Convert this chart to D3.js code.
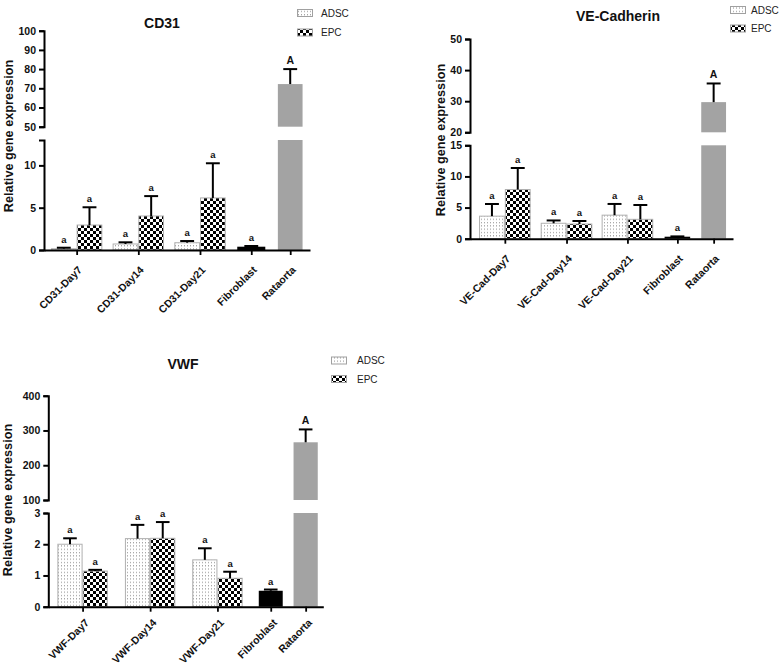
<!DOCTYPE html>
<html><head><meta charset="utf-8">
<script src="https://cdn.jsdelivr.net/npm/d3@7"></script>
<style>body{margin:0;background:#fff}svg{display:block}</style>
</head><body><svg id="c" width="784" height="667"></svg>
<script>
// ---------------- DATA ----------------
const seriesNames = ["ADSC", "EPC"];

const cd31Categories = ["CD31-Day7", "CD31-Day14", "CD31-Day21", "Fibroblast", "Rataorta"];
const cd31ADSC = [0.15, 0.71, 0.86];
const cd31ADSCsd = [0.12, 0.2, 0.2];
const cd31EPC = [2.95, 4.02, 6.15];
const cd31EPCsd = [2.1, 2.35, 4.1];
const cd31Controls = [0.39, 72.2];
const cd31ControlsSd = [0.08, 7.8];
const cd31Letters = ["a", "a", "a", "a", "a", "a", "a", "A"];
const cd31TicksLow = [0, 5, 10];
const cd31TicksHigh = [50, 60, 70, 80, 90, 100];
const cd31DomainLow = [0, 13];
const cd31DomainHigh = [50, 100];

const veCategories = ["VE-Cad-Day7", "VE-Cad-Day14", "VE-Cad-Day21", "Fibroblast", "Rataorta"];
const veADSC = [3.62, 2.48, 3.78];
const veADSCsd = [1.95, 0.45, 1.8];
const veEPC = [7.9, 2.36, 3.11];
const veEPCsd = [3.45, 0.48, 2.3];
const veControls = [0.32, 29.7];
const veControlsSd = [0.05, 6.0];
const veLetters = ["a", "a", "a", "a", "a", "a", "a", "A"];
const veTicksLow = [0, 5, 10, 15];
const veTicksHigh = [20, 30, 40, 50];
const veDomainLow = [0, 15];
const veDomainHigh = [20, 50];

const vwfCategories = ["VWF-Day7", "VWF-Day14", "VWF-Day21", "Fibroblast", "Rataorta"];
const vwfADSC = [2.0, 2.18, 1.5];
const vwfADSCsd = [0.19, 0.44, 0.37];
const vwfEPC = [1.14, 2.19, 0.91];
const vwfEPCsd = [0.04, 0.52, 0.21];
const vwfControls = [0.51, 266];
const vwfControlsSd = [0.04, 37];
const vwfLetters = ["a", "a", "a", "a", "a", "a", "a", "A"];
const vwfTicksLow = [0, 1, 2, 3];
const vwfTicksHigh = [100, 200, 300, 400];
const vwfDomainLow = [0, 3];
const vwfDomainHigh = [100, 400];

const yTitle = "Relative gene expression";

// ---------------- LAYOUT ----------------
const panels = [
  { title: "CD31", cats: cd31Categories, adsc: cd31ADSC, adscSd: cd31ADSCsd, epc: cd31EPC, epcSd: cd31EPCsd,
    ctrl: cd31Controls, ctrlSd: cd31ControlsSd, letters: cd31Letters,
    ticksLow: cd31TicksLow, ticksHigh: cd31TicksHigh, domLow: cd31DomainLow, domHigh: cd31DomainHigh,
    x0: 44, x1: 310, low: [250, 140], high: [126.7, 30.7],
    lead: 0.27, gaps: [0.4, 0.4, 0.43, 0.45], fibW: 1.13, trail: 0.27,
    titleX: 162, titleY: 28.3, yTitleX: 12.5, yTitleY: 136,
    legX: 297, legY: [9, 28.5], legTextX: 321, lblOff: [3, 18] },
  { title: "VE-Cadherin", cats: veCategories, adsc: veADSC, adscSd: veADSCsd, epc: veEPC, epcSd: veEPCsd,
    ctrl: veControls, ctrlSd: veControlsSd, letters: veLetters,
    ticksLow: veTicksLow, ticksHigh: veTicksHigh, domLow: veDomainLow, domHigh: veDomainHigh,
    x0: 470, x1: 733, low: [238.7, 145.3], high: [132.3, 39],
    lead: 0.35, gaps: [0.39, 0.36, 0.42, 0.39], fibW: 1.03, trail: 0.25,
    titleX: 618, titleY: 20.7, yTitleX: 445, yTitleY: 140,
    legX: 730, legY: [6, 24.5], legTextX: 751, lblOff: [3, 18] },
  { title: "VWF", cats: vwfCategories, adsc: vwfADSC, adscSd: vwfADSCsd, epc: vwfEPC, epcSd: vwfEPCsd,
    ctrl: vwfControls, ctrlSd: vwfControlsSd, letters: vwfLetters,
    ticksLow: vwfTicksLow, ticksHigh: vwfTicksHigh, domLow: vwfDomainLow, domHigh: vwfDomainHigh,
    x0: 48.3, x1: 323.3, low: [606.7, 513], high: [500, 395.7],
    lead: 0.36, gaps: [0.68, 0.67, 0.62, 0.39], fibW: 0.99, trail: 0.2,
    titleX: 183, titleY: 369, yTitleX: 12, yTitleY: 500,
    legX: 331, legY: [356.5, 375], legTextX: 357, lblOff: [4, 14] }
];

const FONT = "'Liberation Sans', Arial, Helvetica, sans-serif";
const svg = d3.select("#c").style("font-family", FONT);

// patterns
const defs = svg.append("defs");
const dots = defs.append("pattern").attr("id", "pDots").attr("patternUnits", "userSpaceOnUse")
  .attr("width", 3).attr("height", 3.3);
dots.append("rect").attr("width", 3).attr("height", 3.3).attr("fill", "#fff");
dots.append("rect").attr("x", 1).attr("y", 1).attr("width", 1).attr("height", 1).attr("fill", "#8a8a8a");
const chk = defs.append("pattern").attr("id", "pChk").attr("patternUnits", "userSpaceOnUse")
  .attr("width", 6).attr("height", 6);
chk.append("rect").attr("width", 6).attr("height", 6).attr("fill", "#fff");
chk.append("rect").attr("width", 3).attr("height", 3).attr("fill", "#000");
chk.append("rect").attr("x", 3).attr("y", 3).attr("width", 3).attr("height", 3).attr("fill", "#000");

const styles = {
  ADSC: { fill: "url(#pDots)", stroke: "#b0b0b0" },
  EPC: { fill: "url(#pChk)", stroke: "#b0b0b0" },
  Fibroblast: { fill: "#000", stroke: "none" },
  Rataorta: { fill: "#a3a3a3", stroke: "none" }
};

panels.forEach(p => {
  const g = svg.append("g");
  // compute slots
  const bars = [];
  const centers = [];
  let pos = p.lead;
  for (let i = 0; i < 3; i++) {
    bars.push({ s: pos, w: 1, v: p.adsc[i], sd: p.adscSd[i], kind: "ADSC" });
    bars.push({ s: pos + 1, w: 1, v: p.epc[i], sd: p.epcSd[i], kind: "EPC" });
    centers.push(pos + 1);
    pos += 2 + p.gaps[i];
  }
  bars.push({ s: pos, w: p.fibW, v: p.ctrl[0], sd: p.ctrlSd[0], kind: "Fibroblast" });
  centers.push(pos + p.fibW / 2);
  pos += p.fibW + p.gaps[3];
  bars.push({ s: pos, w: 1, v: p.ctrl[1], sd: p.ctrlSd[1], kind: "Rataorta" });
  centers.push(pos + 0.5);
  const total = pos + 1 + p.trail;
  bars.forEach((b, i) => b.letter = p.letters[i]);

  const x = d3.scaleLinear().domain([0, total]).range([p.x0, p.x1]);
  const yL = d3.scaleLinear().domain(p.domLow).range(p.low);
  const yH = d3.scaleLinear().domain(p.domHigh).range(p.high);
  const yv = v => v <= p.domLow[1] ? yL(v) : yH(v);

  // bars
  bars.forEach(b => {
    const st = styles[b.kind];
    const bx = x(b.s), bw = x(b.s + b.w) - x(b.s);
    const lowTop = Math.min(b.v, p.domLow[1]);
    g.append("rect").attr("x", bx + 0.5).attr("width", bw - 1)
      .attr("y", yL(lowTop)).attr("height", yL(0) - yL(lowTop))
      .attr("fill", st.fill).attr("stroke", st.stroke).attr("stroke-width", 1);
    if (b.v > p.domLow[1]) {
      g.append("rect").attr("x", bx + 0.5).attr("width", bw - 1)
        .attr("y", yH(b.v)).attr("height", yH(p.domHigh[0]) - yH(b.v))
        .attr("fill", st.fill).attr("stroke", st.stroke).attr("stroke-width", 1);
    }
    // error bar (upper only)
    const cx = x(b.s + b.w / 2);
    const top = b.v + b.sd;
    const capHalf = (x(0.27) - x(0));
    g.append("line").attr("x1", cx).attr("x2", cx).attr("y1", yv(b.v)).attr("y2", yv(top))
      .attr("stroke", "#000").attr("stroke-width", 2);
    g.append("line").attr("x1", cx - capHalf).attr("x2", cx + capHalf).attr("y1", yv(top)).attr("y2", yv(top))
      .attr("stroke", "#000").attr("stroke-width", 2);
    g.append("text").attr("x", cx).attr("y", yv(top) - 5).attr("text-anchor", "middle")
      .attr("font-size", b.letter === "A" ? 10.5 : 9.5).attr("font-weight", "bold").attr("fill", "#111")
      .text(b.letter);
  });

  // y axes
  const axL = g.append("g").attr("transform", `translate(${p.x0},0)`)
    .call(d3.axisLeft(yL).tickValues(p.ticksLow).tickFormat(d3.format("d")).tickSize(5).tickSizeOuter(5).tickPadding(3));
  const axH = g.append("g").attr("transform", `translate(${p.x0},0)`)
    .call(d3.axisLeft(yH).tickValues(p.ticksHigh).tickFormat(d3.format("d")).tickSize(5).tickSizeOuter(5).tickPadding(3));
  [axL, axH].forEach(a => {
    a.select(".domain").attr("stroke", "#000").attr("stroke-width", 2);
    a.selectAll(".tick line").attr("stroke", "#000").attr("stroke-width", 2);
    a.selectAll(".tick text").attr("font-size", 10.5).attr("font-weight", "bold").attr("fill", "#111")
      .attr("font-family", FONT);
  });

  // x axis
  const axX = g.append("g").attr("transform", `translate(0,${p.low[0]})`)
    .call(d3.axisBottom(x).tickValues(centers).tickFormat((d, i) => p.cats[i]).tickSize(5).tickSizeOuter(0));
  axX.select(".domain").attr("stroke", "#000").attr("stroke-width", 2);
  axX.selectAll(".tick line").attr("stroke", "#000").attr("stroke-width", 1.8);
  axX.selectAll(".tick text").attr("font-size", 10.5).attr("font-weight", "bold").attr("fill", "#111")
    .attr("font-family", FONT)
    .attr("text-anchor", "end").attr("x", 0).attr("y", 0).attr("dy", "0.35em")
    .attr("transform", `translate(${p.lblOff[0]},${p.lblOff[1]}) rotate(-45)`);

  // titles
  g.append("text").attr("x", p.titleX).attr("y", p.titleY).attr("text-anchor", "middle")
    .attr("font-size", 14).attr("font-weight", "bold").attr("fill", "#111").text(p.title);
  g.append("text").attr("transform", `translate(${p.yTitleX},${p.yTitleY}) rotate(-90)`)
    .attr("text-anchor", "middle").attr("font-size", 12.7).attr("font-weight", "bold").attr("fill", "#111")
    .text(yTitle);

  // legend
  seriesNames.forEach((s, i) => {
    g.append("rect").attr("x", p.legX + 0.5).attr("y", p.legY[i] + 0.5).attr("width", 15).attr("height", 7)
      .attr("fill", styles[s].fill).attr("stroke", "#a0a0a0").attr("stroke-width", 1);
    g.append("text").attr("x", p.legTextX).attr("y", p.legY[i] + 4).attr("dy", "0.35em")
      .attr("font-size", 10).attr("fill", "#222").text(s);
  });
});
</script>
</body></html>
